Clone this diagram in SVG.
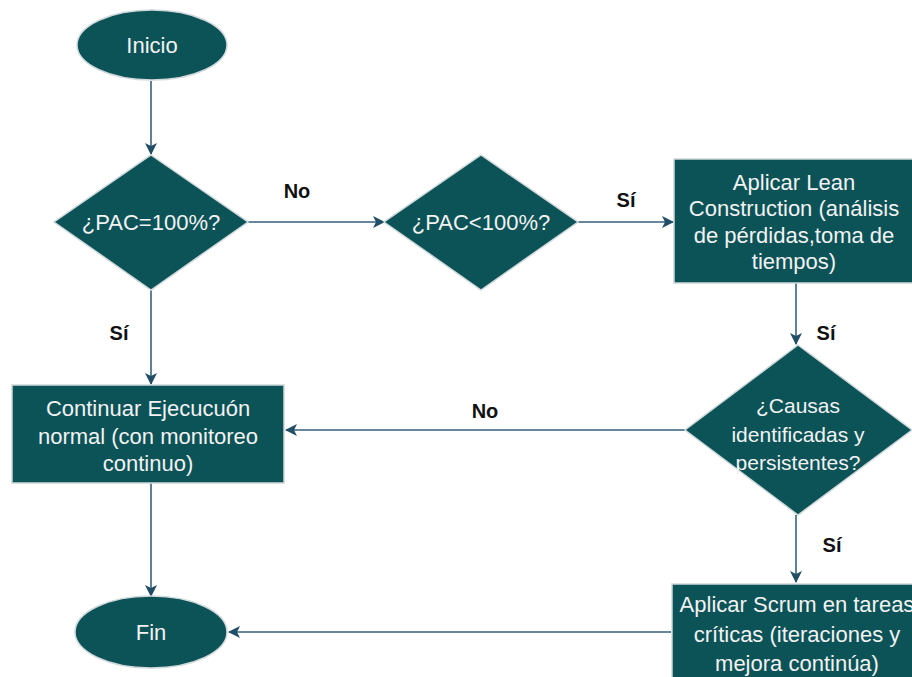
<svg xmlns="http://www.w3.org/2000/svg" width="912" height="677" viewBox="0 0 912 677">
<defs>
<style>
.shape{fill:#0c5358;stroke:#cfd8da;stroke-width:1.5}
.t{font-family:"Liberation Sans",Arial,sans-serif;font-size:22px;fill:#f2f2f2;text-anchor:middle}
.s{font-size:21px}
.lbl{font-family:"Liberation Sans",Arial,sans-serif;font-size:20px;font-weight:bold;fill:#111;text-anchor:middle}
.c{fill:none;stroke:#34617a;stroke-width:1.6}
</style>
<marker id="arr" viewBox="0 0 12 12" refX="11" refY="6" markerWidth="12" markerHeight="12" markerUnits="userSpaceOnUse" orient="auto">
<path d="M0,0 L12,6 L0,12 L3,6 Z" fill="#1f4e66"/>
</marker>
</defs>
<rect width="912" height="677" fill="#ffffff"/>
<g id="connectors">
<line class="c" x1="151" y1="81" x2="151" y2="154" marker-end="url(#arr)"/>
<line class="c" x1="248" y1="222" x2="384" y2="222" marker-end="url(#arr)"/>
<line class="c" x1="578" y1="222" x2="673" y2="222" marker-end="url(#arr)"/>
<line class="c" x1="151" y1="290" x2="151" y2="384" marker-end="url(#arr)"/>
<line class="c" x1="796" y1="283" x2="796" y2="344" marker-end="url(#arr)"/>
<line class="c" x1="685" y1="430" x2="286" y2="430" marker-end="url(#arr)"/>
<line class="c" x1="796" y1="515" x2="796" y2="582" marker-end="url(#arr)"/>
<line class="c" x1="151" y1="483" x2="151" y2="596" marker-end="url(#arr)"/>
<line class="c" x1="671" y1="632" x2="229" y2="632" marker-end="url(#arr)"/>
<text class="lbl" x="297" y="198">No</text>
<text class="lbl" x="626" y="207">Sí</text>
<text class="lbl" x="119" y="340">Sí</text>
<text class="lbl" x="826" y="340">Sí</text>
<text class="lbl" x="485" y="418">No</text>
<text class="lbl" x="832" y="552">Sí</text>
</g>
<g id="inicio">
<ellipse class="shape" cx="152" cy="45" rx="75" ry="35"/>
<text class="t" x="152" y="53">Inicio</text>
</g>
<g id="pac100">
<polygon class="shape" points="151,155 248,222 151,290 54,222"/>
<text class="t" x="151" y="230">¿PAC=100%?</text>
</g>
<g id="pacmenor">
<polygon class="shape" points="481,155 578,222 481,290 384,222"/>
<text class="t" x="481" y="230">¿PAC&lt;100%?</text>
</g>
<g id="lean">
<rect class="shape" x="674" y="159" width="242" height="124"/>
<text class="t" x="794" y="190">Aplicar Lean</text>
<text class="t" x="794" y="216">Construction (análisis</text>
<text class="t" x="794" y="243">de pérdidas,toma de</text>
<text class="t" x="794" y="269">tiempos)</text>
</g>
<g id="continuar">
<rect class="shape" x="12" y="385" width="272" height="98"/>
<text class="t" x="148" y="416">Continuar Ejecucuón</text>
<text class="t" x="148" y="444">normal (con monitoreo</text>
<text class="t" x="148" y="471">continuo)</text>
</g>
<g id="causas">
<polygon class="shape" points="798,345 912,430 798,515 685,430"/>
<text class="t s" x="798" y="413">¿Causas</text>
<text class="t s" x="798" y="442">identificadas y</text>
<text class="t s" x="798" y="470">persistentes?</text>
</g>
<g id="scrum">
<rect class="shape" x="672" y="584" width="260" height="110"/>
<text class="t" x="797" y="612">Aplicar Scrum en tareas</text>
<text class="t" x="797" y="642">críticas (iteraciones y</text>
<text class="t" x="797" y="671">mejora continúa)</text>
</g>
<g id="fin">
<ellipse class="shape" cx="151" cy="632" rx="76" ry="36"/>
<text class="t" x="151" y="640">Fin</text>
</g>
</svg>
